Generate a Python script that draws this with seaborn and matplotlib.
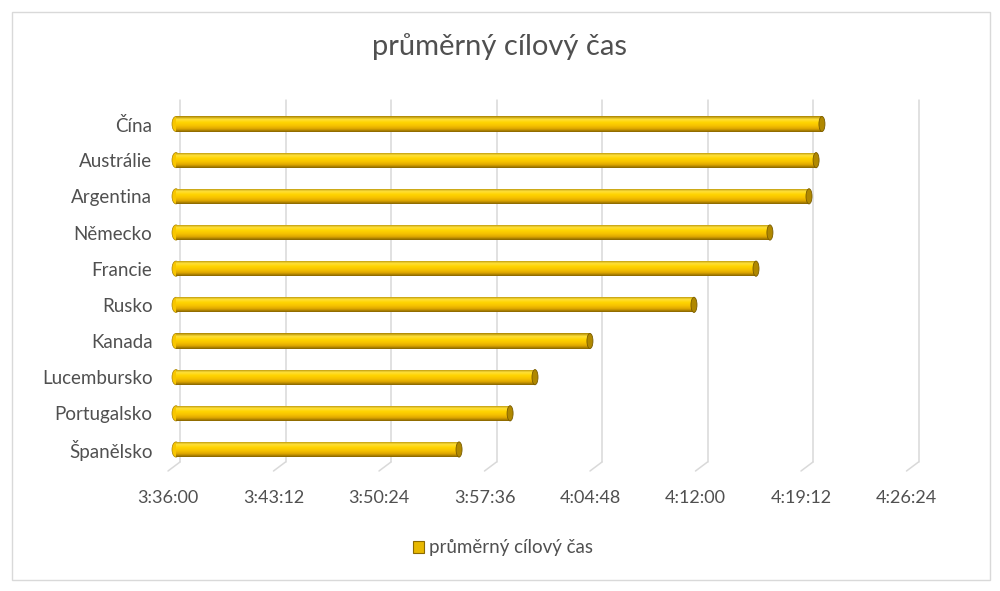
import numpy as np
import pandas as pd
import matplotlib
matplotlib.use("Agg")
import matplotlib.pyplot as plt
import matplotlib.transforms as mtransforms
from matplotlib.patches import Ellipse, Patch, Rectangle
from matplotlib.ticker import FuncFormatter
from matplotlib.colors import LinearSegmentedColormap
import seaborn as sns

# ---- data ----
countries = ["Čína", "Austrálie", "Argentina", "Německo", "Francie",
             "Rusko", "Kanada", "Lucembursko", "Portugalsko", "Španělsko"]
finish_times = ["4:20:05", "4:19:41", "4:19:12", "4:16:32", "4:15:35",
                "4:11:21", "4:04:15", "4:00:30", "3:58:48", "3:55:19"]
x_min_label = "3:36:00"
x_max_label = "4:26:24"
tick_step_label = "0:07:12"
series_name = "průměrný cílový čas"
title_text = "průměrný cílový čas"


def to_sec(s):
    h, m, sec = (int(v) for v in s.split(":"))
    return h * 3600 + m * 60 + sec


def fmt(v, pos=None):
    v = int(round(v))
    return f"{v // 3600}:{(v % 3600) // 60:02d}:{v % 60:02d}"


df = pd.DataFrame({"country": countries,
                   "sec": [to_sec(t) for t in finish_times]})
xmin, xmax, step = to_sec(x_min_label), to_sec(x_max_label), to_sec(tick_step_label)

sns.set_theme(style="white")
plt.rcParams["font.family"] = ["Lato", "DejaVu Sans"]
TXT = "#505050"

fig = plt.figure(figsize=(10, 5.91), dpi=100)
ax = fig.add_axes([0.176, 1 - 462 / 591, 0.7385, (462 - 100) / 591])

bar_w = 0.42
sns.barplot(data=df, x="sec", y="country", orient="h", ax=ax,
            color="#FFC800", width=bar_w, edgecolor="none", linewidth=0)
for p in ax.patches:
    x1 = p.get_x() + p.get_width()
    p.set_x(xmin)
    p.set_width(x1 - xmin)

YLIM = (9 + (462 - 449.5) * 9 / 325.5, -(124 - 100) * 9 / 325.5)

# cylinder-like shading
cmap = LinearSegmentedColormap.from_list(
    "cyl", ["#A88200", "#FFE03A", "#FFD400", "#F7C300", "#DEA600", "#866400"])
grad = np.linspace(0, 1, 64).reshape(-1, 1)
px = (xmax - xmin) / 738.5  # data units per pixel
for p in list(ax.patches):
    x0, y0, w, h = p.get_x(), p.get_y(), p.get_width(), p.get_height()
    yc = y0 + h / 2
    # rounded left end
    cap = Ellipse((x0, yc), 8 * px, h, facecolor="#F8C600", edgecolor="#A88200",
                  linewidth=0.5, zorder=2, clip_on=False)
    ax.add_patch(cap)
    im = ax.imshow(grad, cmap=cmap, aspect="auto",
                   extent=(x0, x0 + w, y0 + h, y0),
                   zorder=3, interpolation="bilinear")
    im.set_clip_path(Rectangle((x0, y0), w, h, transform=ax.transData))
    p.set_visible(False)
    # flat right end face
    end = Ellipse((x0 + w, yc), 6 * px, h, facecolor="#B08800",
                  edgecolor="#7A5C00", linewidth=0.6, zorder=4, clip_on=False)
    ax.add_patch(end)
ax.set_xlim(xmin, xmax)
ax.set_ylim(*YLIM)

# gridlines with a slight 3D floor offset
ticks = np.arange(xmin, xmax + 1, step)
back = ax.transData + mtransforms.ScaledTranslation(4 / 100, 0, fig.dpi_scale_trans)
tr_back = mtransforms.blended_transform_factory(back, ax.transAxes)
tr = mtransforms.blended_transform_factory(ax.transData, ax.transAxes)
for t in ticks:
    ax.plot([t, t], [0, 1], transform=tr_back, color="#D9D9D9", lw=1.1,
            zorder=0, clip_on=False)
    ax.plot([t + 4 * px, t - 8 * px], [0, -9 / 362], transform=tr,
            color="#D9D9D9", lw=1.1, zorder=0, clip_on=False)

ax.set_xticks(ticks)
ax.xaxis.set_major_formatter(FuncFormatter(fmt))
ax.tick_params(axis="x", length=0, pad=20, labelsize=13, labelcolor=TXT)
ax.tick_params(axis="y", length=0, pad=17, labelsize=13.5, labelcolor=TXT)
off = mtransforms.ScaledTranslation(-8 / 100, 0, fig.dpi_scale_trans)
for lab in ax.get_xticklabels():
    lab.set_transform(lab.get_transform() + off)
ax.set_xlabel("")
ax.set_ylabel("")
ax.grid(False)
for s in ax.spines.values():
    s.set_visible(False)

fig.text(0.5, 1 - 47 / 591, title_text, ha="center", va="center",
         fontsize=21, color=TXT)

handle = Patch(facecolor="#E8B800", edgecolor="#8C6A00", linewidth=0.8)
fig.legend([handle], [series_name], loc="center", bbox_to_anchor=(0.503, 1 - 548 / 591),
           frameon=False, fontsize=13.5, labelcolor=TXT, handlelength=0.6,
           handleheight=0.6, handletextpad=0.3)

fig.add_artist(Rectangle((12 / 1000, 1 - 580 / 591), 978 / 1000, 568 / 591,
                         transform=fig.transFigure, fill=False,
                         edgecolor="#D9D9D9", linewidth=1))

fig.savefig("out.png", dpi=100, facecolor="white")
